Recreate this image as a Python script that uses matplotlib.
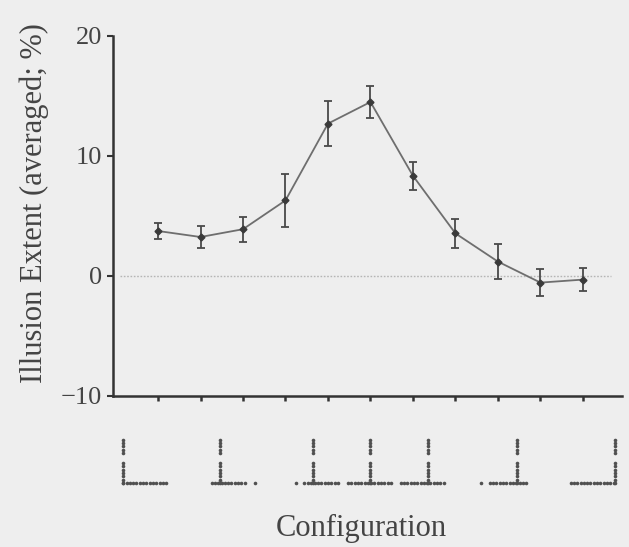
import numpy as np
import matplotlib.pyplot as plt

plt.rcParams['font.family'] = ['Liberation Serif', 'DejaVu Serif']

# Illusion extent per configuration (mean and error)
config = np.arange(1, 12)
extent = [3.75, 3.25, 3.9, 6.3, 12.7, 14.5, 8.35, 3.55, 1.2, -0.55, -0.3]
err = [0.68, 0.94, 1.03, 2.2, 1.86, 1.33, 1.19, 1.22, 1.47, 1.14, 0.94]
yticks = [-10, 0, 10, 20]

# Stimulus icons under the axis: stem position (config units),
# horizontal segments and single dots relative to the stem
icon_stem = [0.18, 2.47, 4.65, 5.99, 7.35, 9.45, 11.75]
icon_segs = [[(0.0, 1.08)],
             [(-0.21, 0.64)],
             [(-0.12, 0.65)],
             [(-0.52, 0.54)],
             [(-0.64, 0.45)],
             [(-0.64, 0.26)],
             [(-1.04, 0.0)]]
icon_dots = [[], [0.82], [-0.41, -0.22], [], [], [-0.84], []]

bg = '#eeeeee'
fig = plt.figure(figsize=(6.29, 5.47), dpi=100, facecolor=bg)
ax = fig.add_axes([113/629, 1-396/547, 509/629, 360/547], facecolor=bg)

ax.axhline(0, xmin=0.013, xmax=0.978, color='#b5b5b5', lw=1.0, ls=(0, (1.2, 1.2)), zorder=1)
ax.errorbar(config, extent, yerr=err, color='#6e6e6e', lw=1.3, marker='D', ms=3.5,
            mfc='#3a3a3a', mec='#3a3a3a', ecolor='#4a4a4a', elinewidth=1.3,
            capsize=3, capthick=1.3, zorder=3)

ax.set_xlim(-0.06, 11.92)
ax.set_ylim(-10, 20)
ax.set_xticks(config)
ax.set_xticklabels([])
ax.set_yticks(yticks)
ax.set_yticklabels([str(v).replace('-', '\u2212') for v in yticks])
for s in ['top', 'right']:
    ax.spines[s].set_visible(False)
for s in ['left', 'bottom']:
    ax.spines[s].set_color('#333333')
    ax.spines[s].set_linewidth(1.8)
ax.tick_params(axis='y', direction='out', length=4, width=1.5, color='#333333',
               labelsize=19, labelcolor='#444444', pad=4)
ax.tick_params(axis='x', direction='out', length=3.5, width=1.8, color='#333333')

# icons
iax = fig.add_axes([113/629, 1-492/547, 509/629, 62/547], facecolor='none')
iax.set_xlim(-0.06, 11.92)
iax.set_ylim(-0.2, 1.17)
iax.axis('off')
xstep = 0.078
ystep = 0.073
dot = dict(ls='none', marker='o', ms=2.6, color='#505050', mew=0)
for sx, segs, dts in zip(icon_stem, icon_segs, icon_dots):
    ys = np.concatenate([np.arange(0, 0.50, ystep), np.arange(0.66, 1.01, ystep)])
    iax.plot(np.full_like(ys, sx), ys, **dot)
    for a, b in segs:
        xs = np.arange(sx + a, sx + b + 1e-6, xstep)
        iax.plot(xs, np.zeros_like(xs), **dot)
    for d in dts:
        iax.plot([sx + d], [0], **dot)

fig.text(34/629, 1-203/547, 'Illusion Extent (averaged; %)', rotation=90,
         ha='center', va='center', fontsize=22, color='#444444')
fig.text(361/629, 1-536/547, 'Configuration', ha='center', va='baseline',
         fontsize=22, color='#444444')

fig.savefig('out.png', dpi=100, facecolor=bg)
